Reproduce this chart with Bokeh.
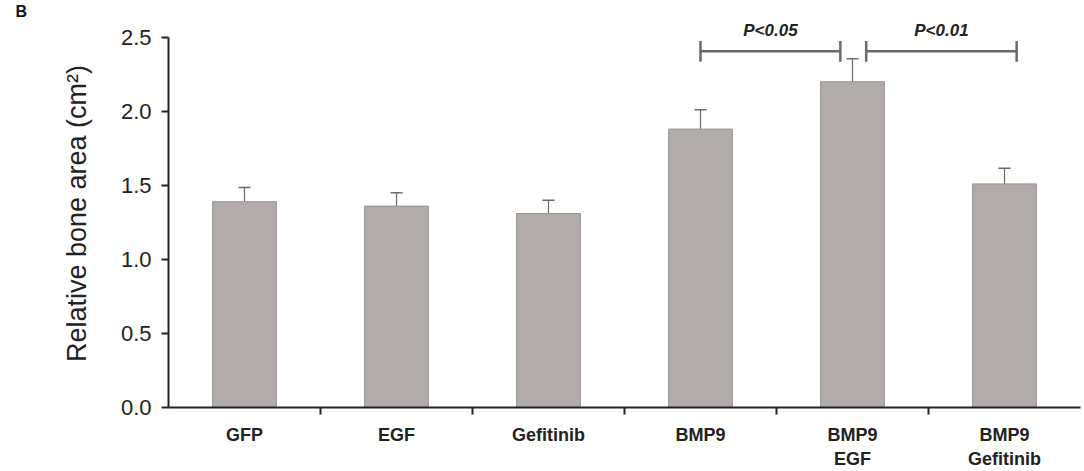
from bokeh.plotting import figure
from bokeh.models import ColumnDataSource, Range1d, FixedTicker, Whisker, TeeHead, Label, Title
from bokeh.embed import file_html
from bokeh.resources import INLINE

categories = ["GFP", "EGF", "Gefitinib", "BMP9", "BMP9\nEGF", "BMP9\nGefitinib"]
means = [1.39, 1.36, 1.31, 1.88, 2.20, 1.51]
errors = [0.095, 0.09, 0.09, 0.13, 0.155, 0.105]
sig_labels = ["P<0.05", "P<0.01"]
sig_pairs = [(3.0, 3.92), (4.09, 5.08)]
sig_y = 2.405
yticks = [0.0, 0.5, 1.0, 1.5, 2.0, 2.5]

xs = list(range(len(categories)))
src = ColumnDataSource(dict(
    x=xs, top=means,
    upper=[m + e for m, e in zip(means, errors)],
    lower=[m - e for m, e in zip(means, errors)],
))

FONT = "Liberation Sans"
p = figure(width=1084, height=471, output_backend="svg", toolbar_location=None,
           x_range=Range1d(-0.5, len(categories) - 0.5), y_range=Range1d(0, 2.62),
           min_border_left=168, min_border_right=4, min_border_top=16, min_border_bottom=63)
p.outline_line_color = None
p.grid.grid_line_color = None
p.background_fill_color = "white"
p.border_fill_color = "white"

# panel letter as a title, shifted to the left edge
p.add_layout(Title(text="B", align="left", offset=-153, standoff=0,
                   text_font=FONT, text_font_size="16px", text_font_style="bold",
                   text_color="#111111"), "above")

p.vbar(x="x", top="top", width=0.42, source=src, fill_color="#b1aca9",
       line_color="#9a9592", line_width=1)

w = Whisker(source=src, base="x", upper="upper", lower="lower",
            line_color="#6e6a68", line_width=1.2,
            upper_head=TeeHead(size=12, line_color="#6e6a68", line_width=1.5),
            lower_head=TeeHead(size=12, line_color="#6e6a68", line_width=1.5))
p.add_layout(w)

# significance brackets
for (x0, x1), lab in zip(sig_pairs, sig_labels):
    p.segment(x0=[x0], y0=[sig_y], x1=[x1], y1=[sig_y], line_color="#6a6a6a", line_width=2.5)
    p.segment(x0=[x0, x1], y0=[sig_y - 0.07] * 2, x1=[x0, x1], y1=[sig_y + 0.07] * 2,
              line_color="#6a6a6a", line_width=2.5)
    p.add_layout(Label(x=(x0 + x1) / 2, y=2.547, text=lab, text_align="center",
                       text_baseline="middle", text_font=FONT, text_font_size="17px",
                       text_font_style="bold italic", text_color="#222222"))

# axes
p.yaxis.ticker = FixedTicker(ticks=yticks)
p.yaxis.bounds = (0, 2.5)
p.yaxis.major_label_overrides = {t: f"{t:.1f}" for t in yticks}
p.yaxis.axis_label = "Relative bone area (cm²)"
p.yaxis.axis_label_text_font = FONT
p.yaxis.axis_label_text_font_size = "27px"
p.yaxis.axis_label_text_font_style = "normal"
p.yaxis.axis_label_text_color = "#222222"
p.yaxis.axis_label_standoff = 26
p.yaxis.major_label_text_font = FONT
p.yaxis.major_label_text_font_size = "22px"
p.yaxis.major_label_text_color = "#222222"
p.yaxis.major_label_standoff = 10
p.yaxis.axis_line_width = 2
p.yaxis.axis_line_color = "#222222"
p.yaxis.major_tick_line_width = 2
p.yaxis.major_tick_line_color = "#222222"
p.yaxis.major_tick_in = 0
p.yaxis.major_tick_out = 7
p.yaxis.minor_tick_line_color = None

p.xaxis.ticker = FixedTicker(ticks=xs, minor_ticks=[i + 0.5 for i in xs[:-1]])
p.xaxis.major_label_overrides = {i: c for i, c in enumerate(categories)}
p.xaxis.major_label_text_font = FONT
p.xaxis.major_label_text_font_size = "18px"
p.xaxis.major_label_text_font_style = "bold"
p.xaxis.major_label_text_color = "#222222"
p.xaxis.major_label_standoff = 10
p.xaxis.major_tick_line_color = None
p.xaxis.major_tick_in = 0
p.xaxis.major_tick_out = 0
p.xaxis.minor_tick_line_color = "#222222"
p.xaxis.minor_tick_line_width = 2
p.xaxis.minor_tick_in = 0
p.xaxis.minor_tick_out = 7
p.xaxis.axis_line_width = 2
p.xaxis.axis_line_color = "#222222"

open("out.html", "w").write(file_html(p, INLINE))
